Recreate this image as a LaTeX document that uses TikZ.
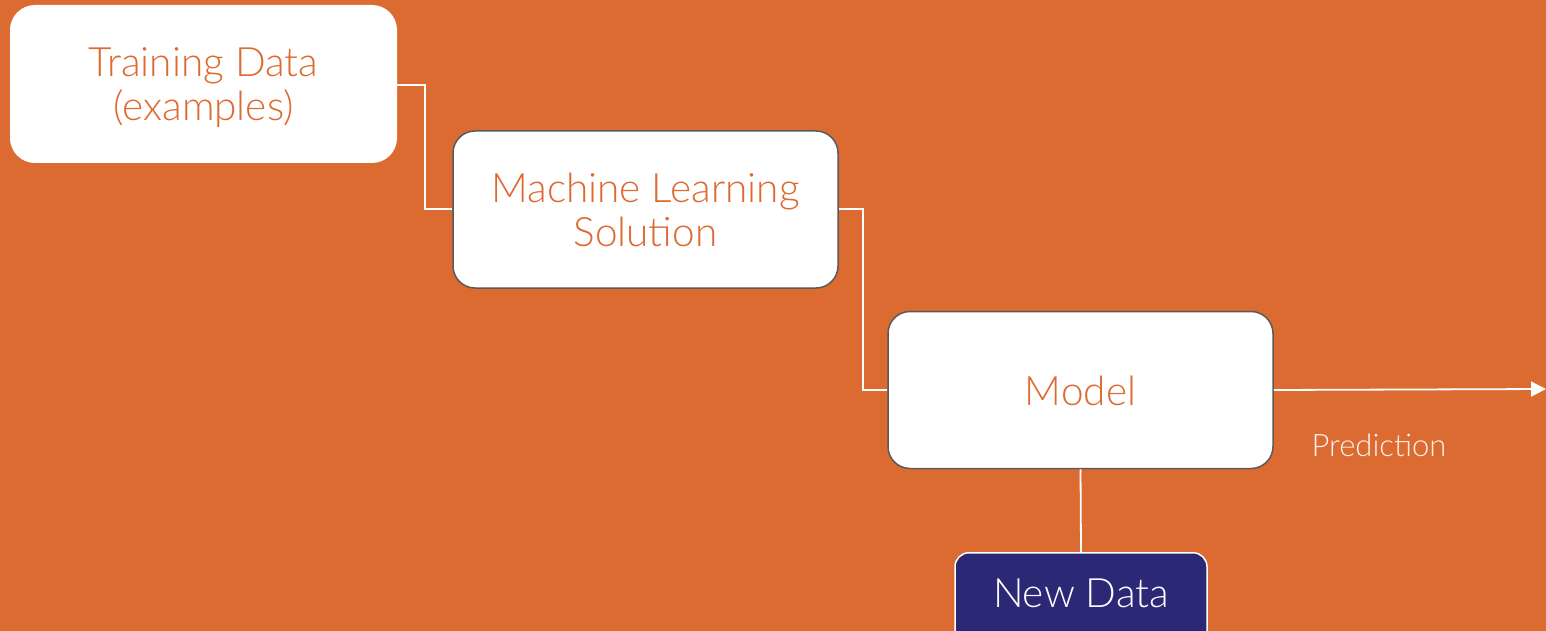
\documentclass[tikz,border=0pt]{standalone}
\usepackage{fontspec}
\setmainfont{Lato Light}
\usetikzlibrary{arrows.meta}
\definecolor{bgorange}{HTML}{DC6B32}
\definecolor{txtorange}{HTML}{DD6A30}
\definecolor{boxgrey}{HTML}{5A5A5A}
\definecolor{navy}{HTML}{2B2876}
\begin{document}
\begin{tikzpicture}[x=1pt,y=-1pt,
  box/.style={rounded corners=22pt, fill=white, minimum width=385pt, minimum height=157pt, inner sep=0pt},
  boxtext/.style={text=txtorange, align=center, font=\fontsize{40.5}{44}\selectfont},
  link/.style={white, line width=1.8pt},
]
\fill[bgorange] (0,0) rectangle (1546,631);
\useasboundingbox (0,0) rectangle (1546,631);
\node[box, minimum width=387pt, minimum height=158pt, rounded corners=25pt] (train) at (203.5,84) {};
\node[boxtext] (traint) at (203.5,88) {Training Data\\(examples)};
\node[box, draw=boxgrey, line width=1.5pt] (ml) at (645.5,209.5) {};
\node[boxtext] (mlt) at (645.5,210) {Machine Learning\\Solution};
\node[box, draw=boxgrey, line width=1.5pt] (model) at (1080.5,390) {};
\node[boxtext] (modelt) at (1080.5,391) {Model};
\node[rounded corners=14pt, fill=navy, draw=white, line width=1.5pt, minimum width=252pt, minimum height=100pt, inner sep=0pt, anchor=north] (new) at (1081,552) {};
\node[text=white, font=\fontsize{40.5}{44}\selectfont] (newt) at (1081,593) {New Data};
\node[text=white!90!bgorange, font=\fontsize{31}{34}\selectfont] (pred) at (1379,445) {Prediction};
\coordinate (out) at (1546,389);
\draw[link] (train.east |- 0,85) -- (425,85) -- (425,209) -- (ml.west |- 0,209);
\draw[link] (ml.east |- 0,209) -- (863,209) -- (863,390) -- (model.west |- 0,390);
\draw[link, -{Triangle[length=15pt,width=15pt]}] (model.east) -- (out);
\draw[link] (model.south) -- (new.north);
\end{tikzpicture}
\end{document}
